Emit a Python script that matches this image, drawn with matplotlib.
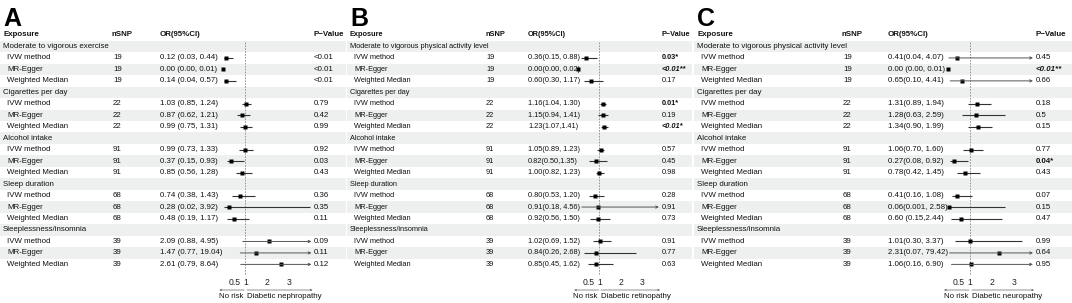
import matplotlib.pyplot as plt

plt.rcParams['font.family'] = ['Liberation Sans', 'DejaVu Sans']

W, H = 1072, 303
FS = 5.7
TXT = '#111111'
SHADE = '#eef0f0'

# row geometry (pixels): header row centre and row pitch
Y0, PITCH = 35, 11.47

methods = ['IVW method', 'MR-Egger', 'Weighted Median']
nsnp = [19, 22, 91, 68, 39]
exposures_a = ['Moderate to vigorous exercise', 'Cigarettes per day', 'Alcohol intake',
               'Sleep duration', 'Sleeplessness/insomnia']
exposures_bc = ['Moderate to vigorous physical activity level', 'Cigarettes per day',
                'Alcohol intake', 'Sleep duration', 'Sleeplessness/insomnia']

# A - diabetic nephropathy
a_or = [0.12, 0.00, 0.14, 1.03, 0.87, 0.99, 0.99, 0.37, 0.85, 0.74, 0.28, 0.48, 2.09, 1.47, 2.61]
a_lo = [0.03, 0.00, 0.04, 0.85, 0.62, 0.75, 0.73, 0.15, 0.56, 0.38, 0.02, 0.19, 0.88, 0.77, 0.79]
a_hi = [0.44, 0.01, 0.57, 1.24, 1.21, 1.31, 1.33, 0.93, 1.28, 1.43, 3.92, 1.17, 4.95, 19.04, 8.64]
a_ci = ['0.12 (0.03, 0.44)', '0.00 (0.00, 0.01)', '0.14 (0.04, 0.57)',
        '1.03 (0.85, 1.24)', '0.87 (0.62, 1.21)', '0.99 (0.75, 1.31)',
        '0.99 (0.73, 1.33)', '0.37 (0.15, 0.93)', '0.85 (0.56, 1.28)',
        '0.74 (0.38, 1.43)', '0.28 (0.02, 3.92)', '0.48 (0.19, 1.17)',
        '2.09 (0.88, 4.95)', '1.47 (0.77, 19.04)', '2.61 (0.79, 8.64)']
a_p = ['<0.01', '<0.01', '<0.01', '0.79', '0.42', '0.99', '0.92', '0.03', '0.43',
       '0.36', '0.35', '0.11', '0.09', '0.11', '0.12']
a_pstyle = [''] * 15

# B - diabetic retinopathy
b_or = [0.36, 0.00, 0.60, 1.16, 1.15, 1.23, 1.05, 0.82, 1.00, 0.80, 0.91, 0.92, 1.02, 0.84, 0.85]
b_lo = [0.15, 0.00, 0.30, 1.04, 0.94, 1.07, 0.89, 0.50, 0.82, 0.53, 0.18, 0.56, 0.69, 0.26, 0.45]
b_hi = [0.88, 0.02, 1.17, 1.30, 1.41, 1.41, 1.23, 1.35, 1.23, 1.20, 4.56, 1.50, 1.52, 2.68, 1.62]
b_ci = ['0.36(0.15, 0.88)', '0.00(0.00, 0.02)', '0.60(0.30, 1.17)',
        '1.16(1.04, 1.30)', '1.15(0.94, 1.41)', '1.23(1.07,1.41)',
        '1.05(0.89, 1.23)', '0.82(0.50,1.35)', '1.00(0.82, 1.23)',
        '0.80(0.53, 1.20)', '0.91(0.18, 4.56)', '0.92(0.56, 1.50)',
        '1.02(0.69, 1.52)', '0.84(0.26, 2.68)', '0.85(0.45, 1.62)']
b_p = ['0.03*', '<0.01**', '0.17', '0.01*', '0.19', '<0.01*', '0.57', '0.45', '0.98',
       '0.28', '0.91', '0.73', '0.91', '0.77', '0.63']
b_pstyle = ['b', 'bi', '', 'b', '', 'bi', '', '', '', '', '', '', '', '', '']

# C - diabetic neuropathy
c_or = [0.41, 0.00, 0.65, 1.31, 1.28, 1.34, 1.06, 0.27, 0.78, 0.41, 0.06, 0.60, 1.01, 2.31, 1.06]
c_lo = [0.04, 0.00, 0.10, 0.89, 0.63, 0.90, 0.70, 0.08, 0.42, 0.16, 0.001, 0.15, 0.30, 0.07, 0.16]
c_hi = [4.07, 0.01, 4.41, 1.94, 2.59, 1.99, 1.60, 0.92, 1.45, 1.08, 2.58, 2.44, 3.37, 79.42, 6.90]
c_ci = ['0.41(0.04, 4.07)', '0.00 (0.00, 0.01)', '0.65(0.10, 4.41)',
        '1.31(0.89, 1.94)', '1.28(0.63, 2.59)', '1.34(0.90, 1.99)',
        '1.06(0.70, 1.60)', '0.27(0.08, 0.92)', '0.78(0.42, 1.45)',
        '0.41(0.16, 1.08)', '0.06(0.001, 2.58)', '0.60 (0.15,2.44)',
        '1.01(0.30, 3.37)', '2.31(0.07, 79.42)', '1.06(0.16, 6.90)']
c_p = ['0.45', '<0.01**', '0.66', '0.18', '0.5', '0.15', '0.77', '0.04*', '0.43',
       '0.07', '0.15', '0.47', '0.99', '0.64', '0.95']
c_pstyle = ['', 'bi', '', '', '', '', '', 'b', '', '', '', '', '', '', '']

xticks = [0.5, 1, 2, 3]

# layout of each panel in pixels
panels = [
    dict(letter='A', x0=2, x1=346, nsnp_x=112, ci_x=160, f0=223.3, f1=311.5, xmax=4.0, p_x=314,
         expo=exposures_a, orv=a_or, lo=a_lo, hi=a_hi, ci=a_ci, p=a_p, ps=a_pstyle,
         outcome='Diabetic nephropathy', fs=FS),
    dict(letter='B', x0=349, x1=692, nsnp_x=485, ci_x=528, f0=578, f1=659, xmax=3.77, p_x=662,
         expo=exposures_bc, orv=b_or, lo=b_lo, hi=b_hi, ci=b_ci, p=b_p, ps=b_pstyle,
         outcome='Diabetic retinopathy', fs=FS * 0.94),
    dict(letter='C', x0=696, x1=1072, nsnp_x=842, ci_x=888, f0=948, f1=1033, xmax=3.86, p_x=1036,
         expo=exposures_bc, orv=c_or, lo=c_lo, hi=c_hi, ci=c_ci, p=c_p, ps=c_pstyle,
         outcome='Diabetic neuropathy', fs=FS),
]

fig = plt.figure(figsize=(W / 100, H / 100), dpi=100)

def row_of(px):
    return (px - Y0) / PITCH

# background axes in pixel x / row y
bg = fig.add_axes([0, 0, 1, 1])
bg.set_xlim(0, W)
bg.set_ylim(row_of(H), row_of(0))
bg.axis('off')

for pn in panels:
    x0 = pn['x0']
    fs = pn['fs']
    # shaded rows
    for r in range(1, 21, 2):
        bg.axhspan(r - 0.5, r + 0.5, xmin=(x0 - 2) / W, xmax=pn['x1'] / W,
                   color=SHADE, lw=0, zorder=0)
    bg.text(x0 + 1, row_of(25.5), pn['letter'], fontsize=18, fontweight='bold',
            va='baseline', ha='left', color='black')
    # header
    hdr = dict(fontsize=fs, fontweight='bold', va='center', color=TXT)
    bg.text(x0 + 1, 0, 'Exposure', ha='left', **hdr)
    bg.text(pn['nsnp_x'], 0, 'nSNP', ha='left', **hdr)
    bg.text(pn['ci_x'], 0, 'OR(95%CI)', ha='left', **hdr)
    bg.text(pn['p_x'] - 1, 0, 'P\u2212Value', ha='left', **hdr)

    r = 1
    k = 0
    for g, expo in enumerate(pn['expo']):
        bg.text(x0 + 1, r, expo, fontsize=fs, va='center', ha='left', color=TXT)
        r += 1
        for m in methods:
            bg.text(x0 + 5, r, m, fontsize=fs, va='center', ha='left', color=TXT)
            bg.text(pn['nsnp_x'] + 1, r, str(nsnp[g]), fontsize=fs, va='center', ha='left', color=TXT)
            bg.text(pn['ci_x'], r, pn['ci'][k], fontsize=fs, va='center', ha='left', color=TXT)
            st = pn['ps'][k]
            bg.text(pn['p_x'], r, pn['p'][k], fontsize=fs, va='center', ha='left', color=TXT,
                    fontweight='bold' if 'b' in st else 'normal',
                    fontstyle='italic' if 'i' in st else 'normal')
            r += 1
            k += 1

    # forest axes
    bottom_px = 276
    ax = fig.add_axes([pn['f0'] / W, (H - bottom_px) / H, (pn['f1'] - pn['f0']) / W, bottom_px / H])
    ax.patch.set_alpha(0)
    ax.set_xlim(0, pn['xmax'])
    ax.set_ylim(row_of(bottom_px), row_of(0))
    for s in ax.spines.values():
        s.set_visible(False)
    ax.set_yticks([])
    ax.set_xticks(xticks)
    ax.set_xticklabels(['0.5', '1', '2', '3'])
    ax.tick_params(axis='x', length=0, pad=1.5, labelsize=FS + 0.5, labelcolor='#222222')

    rows = [1 + g * 4 + j + 1 for g in range(5) for j in range(3)]
    ax.vlines(1, 0.6, row_of(bottom_px), colors='#888888', lw=0.6, linestyles=(0, (2, 1.5)))
    for y, o, lo, hi in zip(rows, pn['orv'], pn['lo'], pn['hi']):
        if hi > pn['xmax']:
            ax.annotate('', xy=(pn['xmax'], y), xytext=(lo, y),
                        arrowprops=dict(arrowstyle='->', lw=0.7, color='#555555',
                                        mutation_scale=4, shrinkA=0, shrinkB=0))
        else:
            ax.hlines(y, lo, hi, colors='#333333', lw=0.8)
        ax.plot(o, y, 's', color='black', ms=2.2, mec='none', clip_on=False)

    # direction arrows under the axis
    ya, yt = row_of(290), row_of(297)
    ax.annotate('', xy=(-0.18, ya), xytext=(0.95, ya), annotation_clip=False,
                arrowprops=dict(arrowstyle='->', lw=0.5, color='#666666',
                                mutation_scale=3, shrinkA=0, shrinkB=0))
    ax.annotate('', xy=(pn['xmax'] + 0.05, ya), xytext=(1.08, ya), annotation_clip=False,
                arrowprops=dict(arrowstyle='->', lw=0.5, color='#666666',
                                mutation_scale=3, shrinkA=0, shrinkB=0))
    ax.text(0.92, yt, 'No risk', fontsize=FS, ha='right', va='center', color=TXT, clip_on=False)
    ax.text(1.08, yt, pn['outcome'], fontsize=FS, ha='left', va='center', color=TXT, clip_on=False)

fig.savefig('out.png', dpi=100)
